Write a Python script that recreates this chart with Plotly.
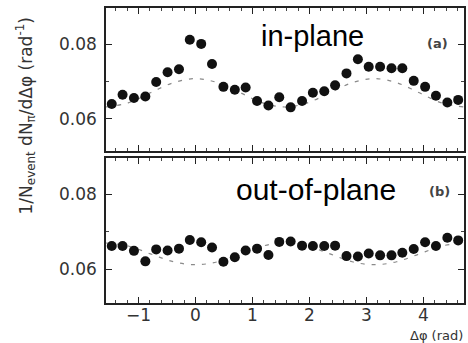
import plotly.graph_objects as go

# Δφ bin centres (rad)
dphi = [-1.47, -1.28, -1.08, -0.88, -0.69, -0.49, -0.29, -0.10,
        0.10, 0.29, 0.49, 0.69, 0.88, 1.08, 1.28, 1.47,
        1.67, 1.87, 2.06, 2.26, 2.45, 2.65, 2.85, 3.04,
        3.24, 3.44, 3.63, 3.83, 4.03, 4.22, 4.42, 4.61]

# per-event pair yield, in-plane trigger
in_plane = [0.0640, 0.0665, 0.0656, 0.0660, 0.0699, 0.0725, 0.0733, 0.0812,
            0.0801, 0.0747, 0.0686, 0.0678, 0.0684, 0.0648, 0.0636, 0.0658,
            0.0631, 0.0648, 0.0670, 0.0674, 0.0690, 0.0722, 0.0760, 0.0740,
            0.0740, 0.0736, 0.0736, 0.0702, 0.0686, 0.0662, 0.0644, 0.0651]

# per-event pair yield, out-of-plane trigger
out_plane = [0.0662, 0.0662, 0.0649, 0.0621, 0.0653, 0.0650, 0.0655, 0.0678,
             0.0672, 0.0658, 0.0620, 0.0632, 0.0650, 0.0655, 0.0638, 0.0673,
             0.0674, 0.0663, 0.0662, 0.0662, 0.0663, 0.0635, 0.0634, 0.0642,
             0.0637, 0.0637, 0.0644, 0.0654, 0.0672, 0.0662, 0.0684, 0.0677]

# flow-modulated background estimate
bg_x = [-1.57, -1.18, -0.79, -0.39, 0.0, 0.39, 0.79, 1.18, 1.57,
        1.96, 2.36, 2.75, 3.14, 3.53, 3.93, 4.32, 4.71]
bg_in = [0.0632, 0.0643, 0.0670, 0.0697, 0.0708, 0.0697, 0.0670, 0.0643, 0.0632,
         0.0643, 0.0670, 0.0697, 0.0708, 0.0697, 0.0670, 0.0643, 0.0632]
bg_out = [0.0670, 0.0662, 0.0641, 0.0620, 0.0612, 0.0620, 0.0641, 0.0662, 0.0670,
          0.0662, 0.0641, 0.0620, 0.0612, 0.0620, 0.0641, 0.0662, 0.0670]

x_ticks = [-1, 0, 1, 2, 3, 4]
y_ticks = [0.06, 0.08]
y_ticktext = ["0.06", "0.08"]

W, H = 468, 343
L, R, T, B = 106, 2, 8, 40
PW, PH = W - L - R, H - T - B


def px(x):
    return (x - L) / PW


def py(y):
    return (H - B - y) / PH


fig = go.Figure()

dash_style = dict(color="#8a8a8a", width=1.2, dash="4px,7px")
marker_style = dict(color="#111111", size=10, symbol="circle")

fig.add_trace(go.Scatter(x=bg_x, y=bg_in, mode="lines", line=dash_style,
                         line_shape="spline", xaxis="x2", yaxis="y2",
                         hoverinfo="skip"))
fig.add_trace(go.Scatter(x=dphi, y=in_plane, mode="markers", marker=marker_style,
                         xaxis="x2", yaxis="y2"))
fig.add_trace(go.Scatter(x=bg_x, y=bg_out, mode="lines", line=dash_style,
                         line_shape="spline", xaxis="x", yaxis="y",
                         hoverinfo="skip"))
fig.add_trace(go.Scatter(x=dphi, y=out_plane, mode="markers", marker=marker_style,
                         xaxis="x", yaxis="y"))

tick_font = dict(family="DejaVu Sans", size=17, color="#333333")
x_range = [-1.5708, 4.7124]

common_x = dict(range=x_range, tickvals=x_ticks, ticks="inside", ticklen=6,
                tickwidth=1.2, tickcolor="#222", showline=True, linecolor="#222",
                linewidth=1.5, mirror="ticks", showgrid=False, zeroline=False,
                minor=dict(dtick=0.2, tick0=0, ticks="inside", ticklen=3,
                           tickcolor="#444", tickwidth=1, showgrid=False),
                tickfont=tick_font, ticklabelstandoff=-4)
common_y = dict(tickvals=y_ticks, ticktext=y_ticktext, ticks="inside", ticklen=6,
                tickwidth=1.2, tickcolor="#222", showline=True, linecolor="#222",
                linewidth=1.5, mirror="ticks", showgrid=False, zeroline=False,
                minor=dict(dtick=0.01, tick0=0.05, ticks="inside", ticklen=3,
                           tickcolor="#444", tickwidth=1, showgrid=False),
                tickfont=tick_font, ticklabelstandoff=4)

fig.update_layout(
    width=W, height=H,
    margin=dict(l=L, r=R, t=T, b=B),
    paper_bgcolor="white", plot_bgcolor="white",
    showlegend=False,
    xaxis=dict(common_x, anchor="y", domain=[0, 1]),
    yaxis=dict(common_y, anchor="x", domain=[0, 0.4905], range=[0.05097, 0.08964]),
    xaxis2=dict(common_x, anchor="y2", domain=[0, 1], showticklabels=False),
    yaxis2=dict(common_y, anchor="x2", domain=[0.5155, 1], range=[0.05143, 0.08972]),
)

annotations = [
    dict(text="in-plane", x=px(314), y=py(36), xanchor="center", yanchor="middle",
         font=dict(family="Liberation Sans", size=29, color="black")),
    dict(text="out-of-plane", x=px(317.5), y=py(189), xanchor="center", yanchor="middle",
         font=dict(family="Liberation Sans", size=30, color="black")),
    dict(text="<b>(a)</b>", x=px(439), y=py(44), xanchor="center", yanchor="middle",
         font=dict(family="DejaVu Sans", size=13, color="#444")),
    dict(text="<b>(b)</b>", x=px(441), y=py(191), xanchor="center", yanchor="middle",
         font=dict(family="DejaVu Sans", size=13, color="#444")),
    dict(text="1/N<sub>event</sub> dN<sub>π</sub>/dΔφ (rad<sup>-1</sup>)",
         x=px(25), y=py(116), xanchor="center", yanchor="middle", textangle=-90,
         font=dict(family="DejaVu Sans", size=17, color="#333")),
    dict(text="Δφ (rad)", x=px(467), y=py(335), xanchor="right", yanchor="middle",
         font=dict(family="DejaVu Sans", size=13, color="#333")),
]
for a in annotations:
    a.update(xref="paper", yref="paper", showarrow=False)
fig.update_layout(annotations=annotations)

fig.write_html("out.html")
